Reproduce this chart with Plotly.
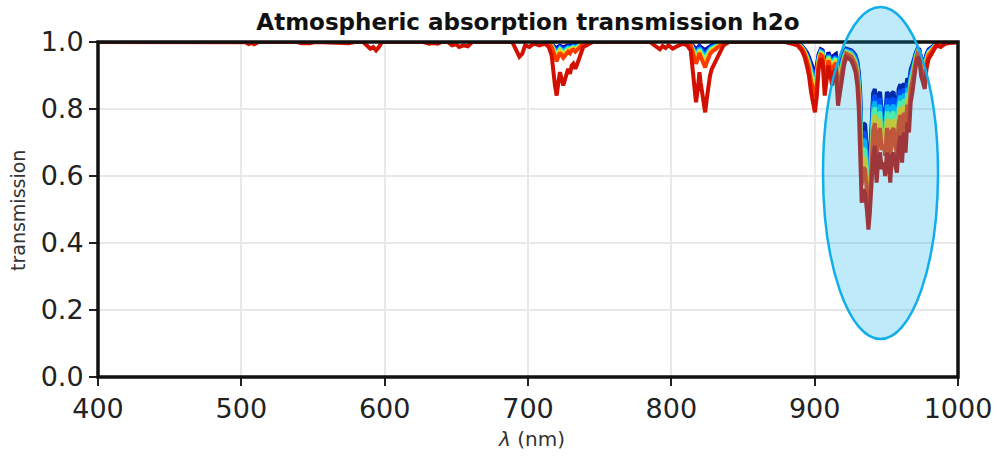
import plotly.graph_objects as go

# ---------------- data ----------------
# deepest (red) curve: visible-range weak features
wl_vis = [400, 500, 503, 505, 507, 509, 512, 539, 542, 545, 548, 551, 567, 571, 575, 579,
          585, 588, 590, 592, 594, 596, 598, 627, 631, 634, 637, 640, 644, 647, 650, 652,
          655, 658, 661, 689, 692, 694, 696, 698, 701, 704, 708]
t_red_vis = [1, 1, .999, .994, .997, .993, 1, 1, .996, .997, .996, 1, 1, .997, .996, 1,
             1, .99, .98, .985, .975, .985, 1, 1, .995, .997, .995, 1, 1, .99, .993, .985,
             .99, .987, 1, 1, .975, .956, .965, .99, .985, .995, .99]

wl_720 = [712, 714.5, 716.5, 718.8, 720, 721.2, 722.3, 724.6, 726.5, 728, 729.3, 730.5,
          731.6, 733, 734, 736.3, 738.5, 741, 745]
t_red_720 = [.995, .985, .96, .87, .84, .88, .91, .87, .9, .92, .905, .93, .935, .92, .93,
             .96, .985, .99, 1.0]

wl_800 = [785, 788, 790, 792, 794, 796, 798, 801, 803, 805]
t_red_800 = [1, .99, .985, .978, .988, .982, .99, .98, .985, .99]

wl_820 = [808, 811, 813.5, 815.3, 817.2, 818.5, 819.6, 820.4, 821.2, 822.5, 823.6, 824.7,
          825.9, 827, 828.3, 829.5, 830.6, 832.9, 836.4, 840]
t_red_820 = [.995, .99, .975, .9, .82, .86, .91, .88, .86, .82, .79, .83, .87, .9, .92, .935,
             .94, .96, .99, 1.0]

wl_875 = [875]
t_red_875 = [1.0]

wl_940 = [880, 884, 888, 891, 893, 894.5, 896, 897.5, 899, 900.2, 901.5, 902.8, 904.2, 905.5,
          907, 908.3, 909.6, 911, 912.2, 913.5, 914.8, 916.3, 917.6, 919, 920.5, 922, 923.8,
          925.5, 927, 928.5, 929.8, 930.8, 931.8, 932.8, 934, 935.2, 936.4, 937.5, 938.5,
          939.6, 940.8, 942, 943.2, 944.4, 945.6, 946.8, 948, 949.2, 950.4, 951.6, 952.7,
          953.9, 955.1, 956.3, 957.4, 958.6, 959.8, 961, 962.2, 963.4, 964.6, 965.8, 967,
          968.2, 969.4, 970.6, 971.8, 973, 974.2, 975.5, 976.8, 978, 979.5, 981, 983, 985,
          988, 991, 995, 1000]
t_red_940 = [1.0, .995, .99, .975, .955, .93, .9, .85, .82, .79,
             .84, .92, .95, .945, .84, .88, .93, .9, .87, .91,
             .92, .81, .85, .89, .93, .955, .95, .945, .93, .91,
             .87, .8, .66, .52, .56, .55, .5, .44, .49, .59,
             .66, .69, .58, .65, .67, .62, .64, .6, .67, .65,
             .58, .66, .67, .63, .61, .69, .72, .64, .73, .67,
             .76, .73, .82, .85, .9, .93, .955, .95, .9, .88,
             .86, .92, .95, .96, .975, .99, .985, .995, .998, 1.0]

# shallower curves (blue -> orange), sampled only inside the three bands
# (None = no sample between bands)
wl_grad = wl_720 + [None] + wl_820 + [None] + wl_940

t_c0 = ([.999, .998, .995, .984, .981, .986, .989, .984, .988, .99, .989, .992, .992, .99, .992, .995, .998, .999, 1] + [None] +
        [.999, .999, .997, .988, .978, .983, .989, .986, .983, .978, .975, .98, .984, .988, .99, .992, .993, .995, .999, 1] + [None] +
        [1, .998, .996, .989, .98, .969, .955, .933, .919, .906,
         .928, .964, .978, .975, .928, .946, .969, .955, .942, .96,
         .964, .914, .933, .95, .969, .98, .978, .975, .969, .96,
         .942, .91, .847, .698, .758, .753, .685, .608, .643, .774,
         .847, .86, .769, .842, .851, .791, .802, .78, .851, .842,
         .769, .847, .851, .796, .786, .86, .874, .802, .878, .851,
         .892, .878, .919, .933, .955, .969, .98, .978, .955, .946,
         .937, .964, .978, .982, .989, .996, .993, .998, .999, 1])
t_c1 = ([.999, .998, .994, .979, .974, .981, .986, .979, .984, .987, .985, .989, .99, .987, .989, .994, .998, .998, 1] + [None] +
        [.999, .998, .996, .984, .971, .978, .986, .981, .978, .971, .966, .973, .979, .984, .987, .99, .99, .994, .998, 1] + [None] +
        [1, .997, .995, .987, .977, .964, .949, .924, .908, .893,
         .918, .959, .975, .972, .918, .939, .964, .949, .934, .954,
         .959, .903, .924, .944, .964, .977, .975, .972, .964, .954,
         .934, .898, .827, .674, .732, .726, .66, .586, .623, .75,
         .827, .842, .744, .821, .832, .768, .78, .756, .832, .821,
         .744, .827, .832, .774, .762, .842, .857, .78, .862, .832,
         .878, .862, .908, .924, .949, .964, .977, .975, .949, .939,
         .929, .959, .975, .98, .987, .995, .992, .997, .999, 1])
t_c2 = ([.999, .997, .992, .974, .968, .976, .982, .974, .98, .984, .981, .986, .987, .984, .986, .992, .997, .998, 1] + [None] +
        [.999, .998, .995, .98, .964, .972, .982, .976, .972, .964, .958, .966, .974, .98, .984, .987, .988, .992, .998, 1] + [None] +
        [1, .997, .994, .986, .974, .96, .943, .914, .897, .88,
         .909, .954, .972, .969, .909, .932, .96, .943, .926, .949,
         .954, .892, .914, .937, .96, .974, .972, .969, .96, .949,
         .926, .886, .806, .65, .71, .703, .635, .558, .597, .729,
         .806, .823, .723, .80, .812, .749, .762, .736, .812, .80,
         .723, .806, .812, .756, .743, .823, .84, .762, .846, .812,
         .863, .846, .897, .914, .943, .96, .974, .972, .943, .932,
         .92, .954, .972, .977, .986, .994, .991, .997, .999, 1])
t_c3 = ([.999, .996, .99, .968, .96, .97, .978, .968, .975, .98, .976, .983, .984, .98, .983, .99, .996, .998, 1] + [None] +
        [.999, .998, .994, .975, .955, .965, .978, .97, .965, .955, .948, .958, .968, .975, .98, .984, .985, .99, .998, 1] + [None] +
        [1, .997, .994, .984, .972, .956, .937, .906, .887, .868,
         .899, .95, .969, .965, .899, .924, .956, .937, .918, .943,
         .95, .88, .906, .931, .956, .972, .969, .965, .956, .943,
         .918, .874, .786, .626, .683, .676, .61, .535, .577, .705,
         .786, .805, .698, .779, .792, .726, .741, .712, .792, .779,
         .698, .786, .792, .734, .719, .805, .824, .741, .83, .792,
         .849, .83, .887, .906, .937, .956, .972, .969, .937, .924,
         .912, .95, .969, .975, .984, .994, .991, .997, .999, 1])
t_c4 = ([.998, .996, .988, .961, .952, .964, .973, .961, .97, .976, .972, .979, .981, .976, .979, .988, .996, .997, 1] + [None] +
        [.998, .997, .993, .97, .946, .958, .973, .964, .958, .946, .937, .949, .961, .97, .976, .981, .982, .988, .997, 1] + [None] +
        [1, .997, .993, .983, .969, .951, .93, .895, .874, .853,
         .888, .944, .965, .962, .888, .916, .951, .93, .909, .937,
         .944, .867, .895, .923, .951, .969, .965, .962, .951, .937,
         .909, .86, .762, .602, .657, .649, .585, .513, .556, .68,
         .762, .783, .672, .755, .769, .704, .719, .688, .769, .755,
         .672, .762, .769, .711, .696, .783, .804, .719, .811, .769,
         .832, .811, .874, .895, .93, .951, .969, .965, .93, .916,
         .902, .944, .965, .972, .983, .993, .99, .997, .999, 1])
t_c5 = ([.998, .995, .986, .953, .942, .957, .968, .953, .964, .971, .966, .975, .977, .971, .975, .986, .995, .996, 1] + [None] +
        [.998, .996, .991, .964, .935, .95, .968, .957, .95, .935, .924, .939, .953, .964, .971, .977, .978, .986, .996, 1] + [None] +
        [1, .996, .992, .981, .965, .945, .922, .883, .86, .836,
         .875, .938, .961, .957, .875, .906, .945, .922, .899, .93,
         .938, .852, .883, .914, .945, .965, .961, .957, .945, .93,
         .899, .844, .735, .573, .626, .618, .555, .485, .531, .652,
         .735, .758, .643, .727, .743, .677, .694, .66, .743, .727,
         .643, .735, .743, .685, .669, .758, .782, .694, .789, .743,
         .813, .789, .86, .883, .922, .945, .965, .961, .922, .906,
         .891, .938, .961, .969, .981, .992, .988, .996, .998, 1])

wl_red = wl_vis + wl_720 + wl_800 + wl_820 + wl_875 + wl_940
t_red = t_red_vis + t_red_720 + t_red_800 + t_red_820 + t_red_875 + t_red_940

x_ticks = [400, 500, 600, 700, 800, 900, 1000]
y_ticks = [0.0, 0.2, 0.4, 0.6, 0.8, 1.0]
y_tick_labels = ["0.0", "0.2", "0.4", "0.6", "0.8", "1.0"]

# ---------------- styling ----------------
curve_colors = ["#000096", "#0032FF", "#00B4FF", "#66FF99", "#FFD200", "#FF3C00"]
red_color = "#D21000"
FONT = "DejaVu Sans"
LW = 4

fig = go.Figure()
for t, c in zip([t_c0, t_c1, t_c2, t_c3, t_c4, t_c5], curve_colors):
    fig.add_trace(go.Scatter(x=wl_grad, y=t, mode="lines", connectgaps=False,
                             line=dict(color=c, width=LW), showlegend=False,
                             hoverinfo="skip"))
fig.add_trace(go.Scatter(x=wl_red, y=t_red, mode="lines",
                         line=dict(color=red_color, width=LW), showlegend=False,
                         hoverinfo="skip"))

L, R, T, B = 98, 39, 42, 85
W, H = 997, 462
pw, ph = W - L - R, H - T - B

fig.update_layout(
    width=W, height=H,
    margin=dict(l=L, r=R, t=T, b=B, pad=0, autoexpand=False),
    paper_bgcolor="white", plot_bgcolor="white",
    font=dict(family=FONT, color="#222222"),
    title=dict(text="<b>Atmospheric absorption transmission h2o</b>",
               font=dict(family=FONT, size=23, color="#111111"),
               x=0.5, xref="paper", xanchor="center",
               y=1 - 22 / H, yref="container", yanchor="middle"),
    xaxis=dict(range=[400, 1000], tickvals=x_ticks, ticks="outside", ticklen=8,
               tickwidth=1.5, tickcolor="#222222", showline=False, automargin=False,
               showgrid=True, gridcolor="#e8e8e8", gridwidth=1.5, zeroline=False,
               tickfont=dict(family=FONT, size=27, color="#222222")),
    yaxis=dict(range=[0, 1], tickvals=y_ticks, ticktext=y_tick_labels, ticks="outside",
               ticklen=8, tickwidth=1.5, tickcolor="#222222", showline=False,
               automargin=False,
               showgrid=True, gridcolor="#e8e8e8", gridwidth=1.5, zeroline=False,
               tickfont=dict(family=FONT, size=27, color="#222222")),
    shapes=[
        dict(type="rect", xref="paper", yref="paper", x0=0, x1=1, y0=0, y1=1,
             line=dict(color="#111111", width=3.5), layer="above"),
        dict(type="circle", xref="paper", yref="paper",
             x0=(823 - L) / pw, x1=(938 - L) / pw,
             y0=(H - B - 339) / ph, y1=(H - B - 7) / ph,
             line=dict(color="#10AEEA", width=2.5),
             fillcolor="rgba(0,170,235,0.25)", layer="above"),
    ],
    annotations=[
        dict(text="transmission", xref="paper", yref="paper",
             x=(18 - L) / pw, y=(H - B - 211) / ph, textangle=-90,
             showarrow=False, xanchor="center", yanchor="middle",
             font=dict(family=FONT, size=19, color="#333333")),
        dict(text="<i>λ</i> (nm)", xref="paper", yref="paper",
             x=(531 - L) / pw, y=(H - B - 439) / ph,
             showarrow=False, xanchor="center", yanchor="middle",
             font=dict(family=FONT, size=20, color="#333333")),
    ],
)

fig.write_html("out.html")
